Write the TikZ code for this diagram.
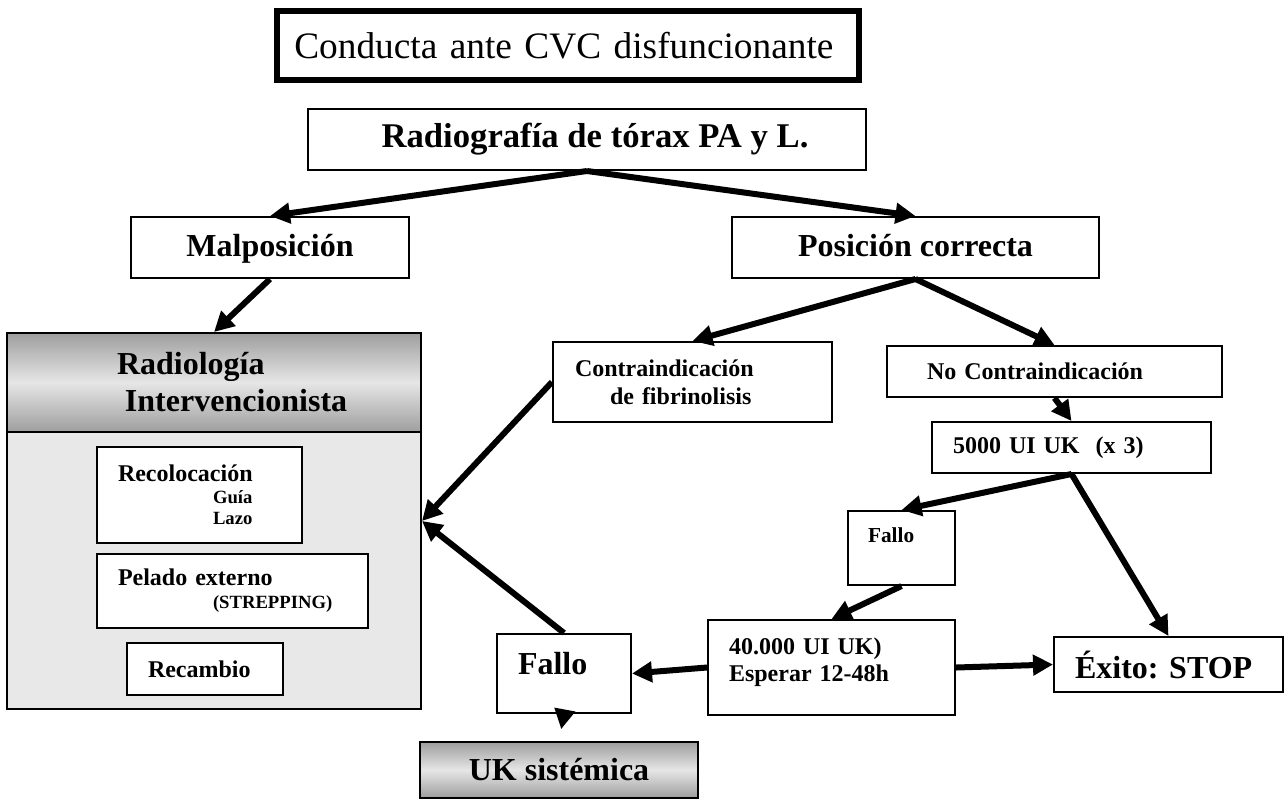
\documentclass[tikz,border=0pt]{standalone}
\usepackage{fontspec}
\setmainfont{Liberation Serif}
\definecolor{PanelGray}{RGB}{232,232,232}
\definecolor{ShadeDark}{RGB}{158,158,158}
\definecolor{ShadeLight}{RGB}{230,230,230}
\usetikzlibrary{arrows.meta}
\newcommand{\bigtxt}{\fontsize{24}{28}\selectfont}
\newcommand{\midtxt}{\fontsize{18}{21}\selectfont}
\newcommand{\smalltxt}{\fontsize{14}{16}\selectfont}
\frenchspacing

\begin{document}
\begin{tikzpicture}[x=0.75pt, y=-0.75pt,
    box/.style={draw, line width=1.5pt, fill=white, inner sep=0pt, font=\bfseries\bigtxt},
    lbox/.style={box, align=left, text width=#1},
    shade/.style={top color=ShadeDark, bottom color=ShadeDark, middle color=ShadeLight},
    arr/.style={-{Triangle[length=15pt,width=15pt]}, line width=4.5pt}]
        \useasboundingbox (0,0) rectangle (1287,800);

        % Title
        \node[box, line width=4.5pt, font=\fontsize{28}{32}\selectfont, align=left, text width=436.5pt, minimum height=51.75pt] (title) at (568,45.5) {\hspace*{13pt}Conducta ante CVC disfuncionante};

        % Radiografia
        \node[box, font=\bfseries\fontsize{26}{30}\selectfont, minimum width=418.5pt, minimum height=45.75pt] (radio) at (587,139.5) {\hspace*{12pt}Radiografía de tórax PA y L.};
        \node[box, text height=18pt, text depth=4pt, minimum width=208.5pt, minimum height=45.75pt] (malpos) at (270,247.5) {Malposición};
        \node[box, text height=18pt, text depth=4pt, minimum width=275.25pt, minimum height=45.75pt] (poscor) at (915.5,247.5) {Posición correcta};

        % Radiologia Intervencionista
        \node[box, fill=PanelGray, minimum width=310.5pt, minimum height=282pt] (radint) at (214,521) {};
        \node[box, shade, anchor=north, align=left, text width=310.5pt, minimum height=74.25pt, font=\bfseries\fontsize{24}{27.75}\selectfont] (radhdr) at (radint.north) {\hspace*{82.5pt}Radiología\\\hspace*{88.5pt}Intervencionista};
        \node[lbox=153.75pt, minimum height=72pt, font=\bfseries\fontsize{18}{16.25}\selectfont] (recol) at (199.5,495) {\hspace*{15.75pt}Recolocación\\{\smalltxt\hspace*{87pt}Guía}\\{\smalltxt\hspace*{87pt}Lazo}};
        \node[lbox=203.25pt, minimum height=55.5pt, font=\bfseries\fontsize{18}{17.25}\selectfont] (pelado) at (232.5,591) {\hspace*{15.75pt}Pelado externo\\{\smalltxt\hspace*{87pt}(STREPPING)}};
        \node[lbox=117pt, minimum height=39pt, font=\bfseries\midtxt] (recamb) at (205,669) {\hspace*{15.75pt}Recambio};

        % Fibrinolisis
        \node[lbox=209.25pt, minimum height=60pt, font=\bfseries\midtxt] (contra) at (692.5,382) {\hspace*{16.5pt}Contraindicación\\\hspace*{42.75pt}de fibrinolisis};
        \node[lbox=251.25pt, minimum height=38.25pt, font=\bfseries\midtxt] (nocontra) at (1054.5,371.5) {\hspace*{30pt}No Contraindicación};
        \node[lbox=209.25pt, minimum height=38.25pt, font=\bfseries\midtxt] (uk5000) at (1071.5,447.5) {\hspace*{15.75pt}5000 UI UK~ (x 3)};
        \node[lbox=80.25pt, minimum height=55.5pt, text height=12pt, text depth=21pt, font=\bfseries\fontsize{16}{19}\selectfont] (fallo1) at (901.5,548) {\hspace*{15pt}Fallo};
        \node[lbox=185.25pt, minimum height=71.25pt, font=\bfseries\fontsize{18}{20.25}\selectfont] (uk40) at (831.5,667.5) {\hspace*{15.75pt}40.000 UI UK)\\\hspace*{15.75pt}Esperar 12-48h\\[-8pt]\mbox{}};
        \node[lbox=100.5pt, minimum height=59.25pt, text height=17pt, text depth=15pt] (fallo2) at (564,673.5) {\hspace*{15.75pt}Fallo};
        \node[lbox=171.75pt, minimum height=41.25pt] (exito) at (1168.5,664.5) {\hspace*{15.75pt}Éxito: STOP};
        \node[box, shade, minimum width=208.5pt, minimum height=42pt] (uksist) at (559,770) {UK sistémica};

        % Arrows
        \draw[arr] (radio.south) -- (malpos.north);
        \draw[arr] (radio.south) -- (poscor.north);
        \draw[arr] (malpos.south) -- (radint.north);
        \draw[arr] (poscor.south) -- (contra.north);
        \draw[arr] (poscor.south) -- (nocontra.north);
        \draw[arr] (nocontra.south) -- (uk5000.north);
        \draw[arr] (uk5000.south) -- (fallo1.north);
        \draw[arr] (uk5000.south) -- (exito.north);
        \draw[arr] (fallo1.south) -- (uk40.north);
        \draw[arr] (uk40.east) -- (exito.west);
        \draw[arr] (uk40.west) -- (fallo2.east);
        \draw[arr] (contra.west) -- (radint.east);
        \draw[arr] (fallo2.north) -- (radint.east);
        \draw[arr, shorten >=9pt] (fallo2.south) -- (uksist.north);
    \end{tikzpicture}
\end{document}
